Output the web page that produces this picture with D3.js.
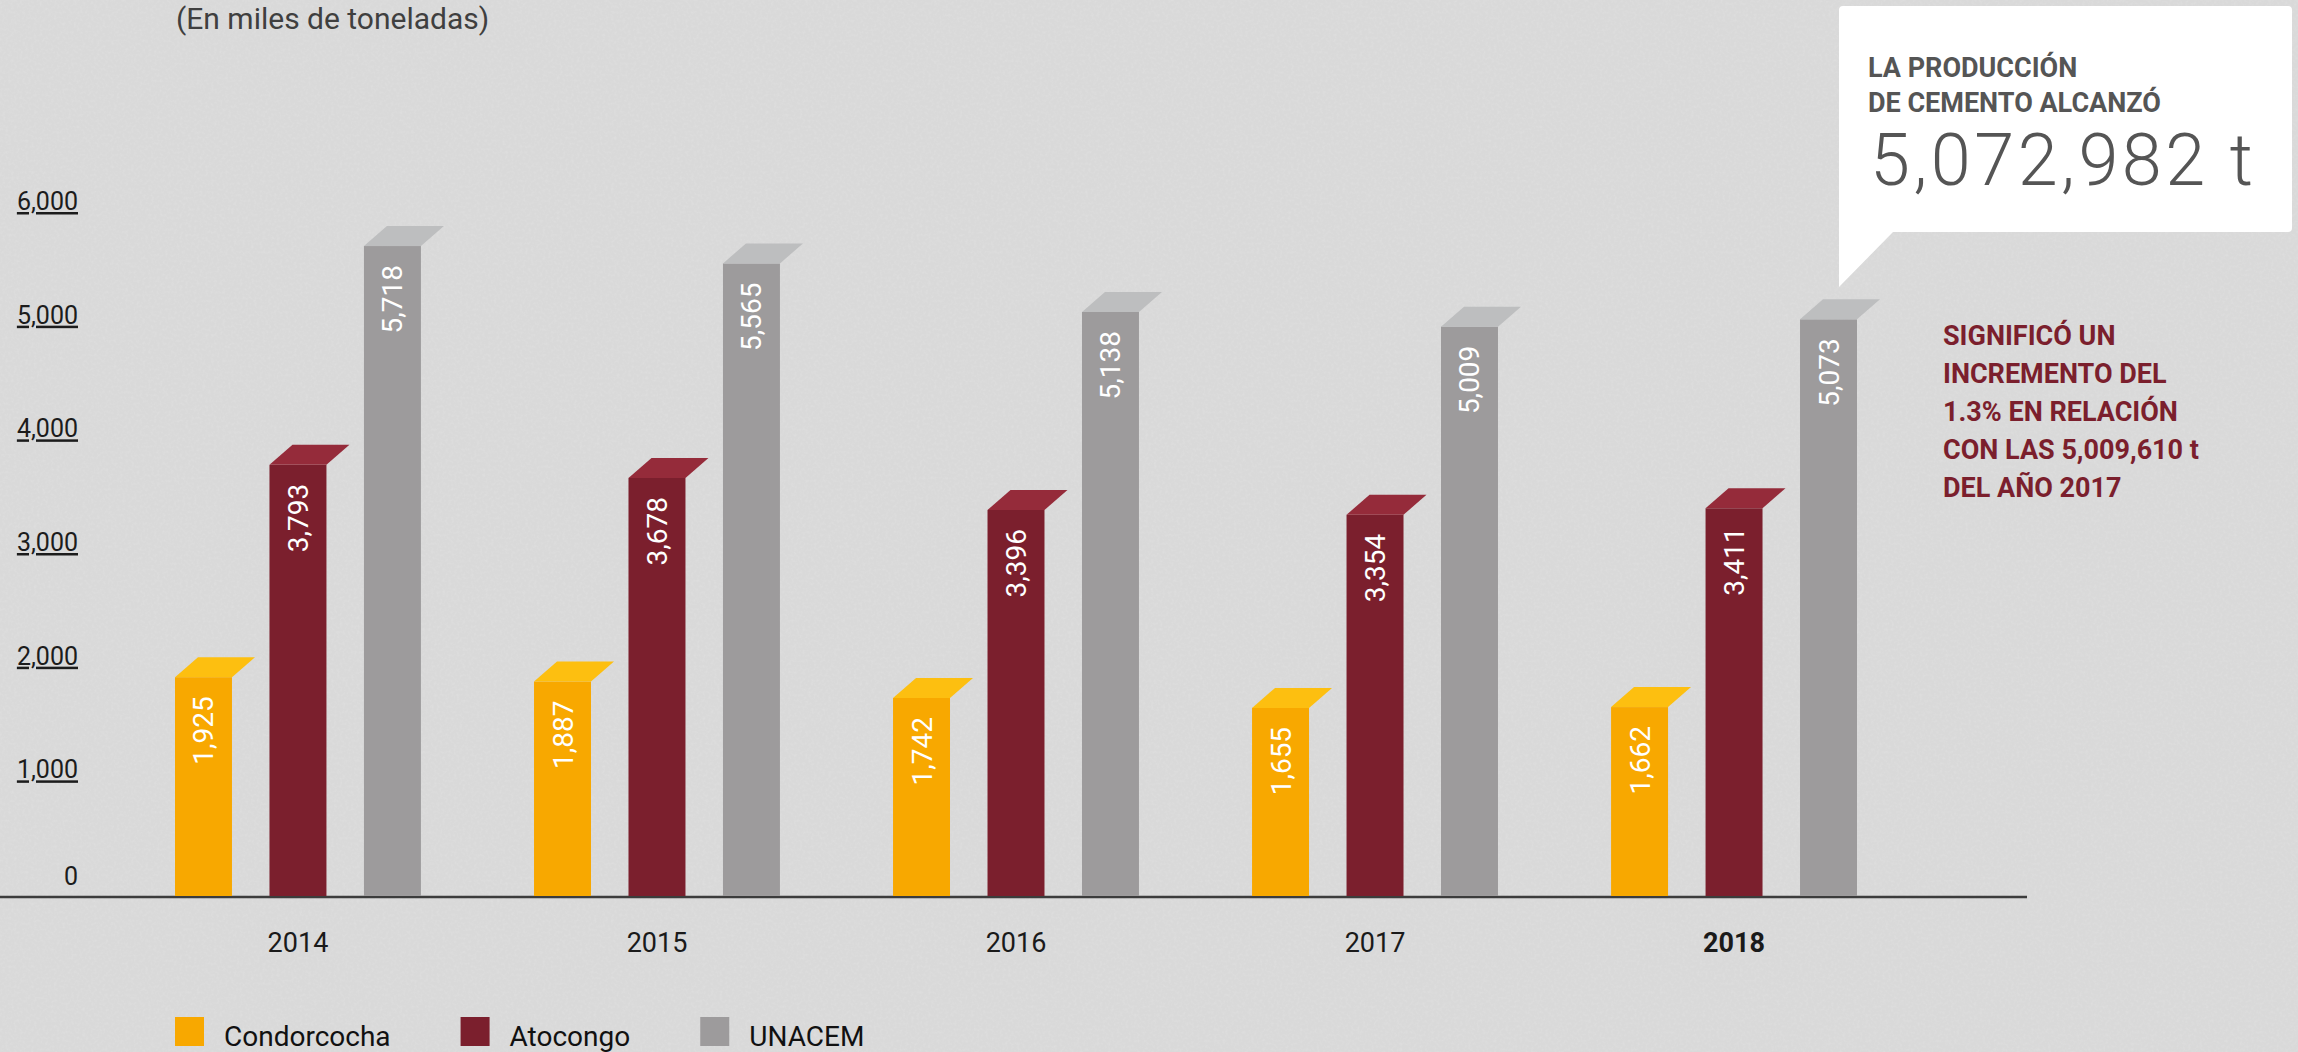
<!DOCTYPE html>
<html>
<head>
<meta charset="utf-8">
<script src="https://cdn.jsdelivr.net/npm/d3@7"></script>
<style>
  html, body { margin: 0; padding: 0; background: #dbdbdb; overflow: hidden; }
  svg { display: block; font-family: Roboto, "Noto Sans", sans-serif; }
</style>
</head>
<body>
<div id="chart"></div>
<script>
// data (miles de toneladas)
var years = ["2014", "2015", "2016", "2017", "2018"];
var series = ["Condorcocha", "Atocongo", "UNACEM"];
var condorcocha = [1925, 1887, 1742, 1655, 1662];
var atocongo = [3793, 3678, 3396, 3354, 3411];
var unacem = [5718, 5565, 5138, 5009, 5073];
var yTicks = [0, 1000, 2000, 3000, 4000, 5000, 6000];

var frontColor = {Condorcocha: "#f8a800", Atocongo: "#7b1f2d", UNACEM: "#9d9b9c"};
var topColor = {Condorcocha: "#fdbf10", Atocongo: "#952b3a", UNACEM: "#bdbebf"};

var W = 2298, H = 1052;

var svg = d3.select("#chart")
  .append("svg")
  .attr("width", W)
  .attr("height", H);

// paper-like background with a light grain
var defs = svg.append("defs");
var grain = defs.append("filter").attr("id", "grain")
  .attr("x", 0).attr("y", 0).attr("width", "100%").attr("height", "100%");
grain.append("feTurbulence")
  .attr("type", "fractalNoise")
  .attr("baseFrequency", 0.35)
  .attr("numOctaves", 2)
  .attr("seed", 3);
grain.append("feColorMatrix")
  .attr("type", "matrix")
  .attr("values", "0 0 0 0 1  0 0 0 0 1  0 0 0 0 1  0 0 0 0.45 -0.18");

svg.append("rect").attr("width", W).attr("height", H).attr("fill", "#d9d9d9");
svg.append("rect").attr("width", W).attr("height", H).attr("filter", "url(#grain)").attr("opacity", 0.5);

// scales
var y = d3.scaleLinear()
  .domain([0, 6000])
  .range([896, 214]);

var x0 = d3.scaleBand()
  .domain(years)
  .range([175, 1857])
  .paddingInner(0.315)
  .paddingOuter(0);

var x1 = d3.scaleBand()
  .domain(series)
  .range([0, x0.bandwidth()])
  .paddingInner(0.397)
  .paddingOuter(0);

var fmt = d3.format(",");

// subtitle
svg.append("text")
  .attr("x", 176)
  .attr("y", 29)
  .attr("fill", "#3f3f3f")
  .style("font-size", "30px")
  .text("(En miles de toneladas)");

// Y axis (underlined labels)
var yAxis = svg.append("g")
  .attr("transform", "translate(78,0)")
  .call(d3.axisLeft(y).tickValues(yTicks).tickSize(0).tickPadding(0).tickFormat(fmt));
yAxis.select(".domain").remove();
yAxis.selectAll("text")
  .attr("dy", function(d) { return d === 0 ? "-0.45em" : "-0.18em"; })
  .attr("fill", "#1c1c1c")
  .style("font-size", "25px")
  .style("font-family", "Roboto, sans-serif")
  .style("text-decoration", function(d) { return d === 0 ? "none" : "underline"; });

// baseline
svg.append("line")
  .attr("x1", 0).attr("x2", 2027)
  .attr("y1", 897).attr("y2", 897)
  .attr("stroke", "#3c3c3c")
  .attr("stroke-width", 2.5);

// X axis
var xAxis = svg.append("g")
  .attr("transform", "translate(0,897)")
  .call(d3.axisBottom(x0).tickSize(0).tickPadding(0));
xAxis.select(".domain").remove();
xAxis.selectAll("text")
  .attr("y", 55)
  .attr("dy", 0)
  .attr("fill", "#1a1a1a")
  .style("font-size", "27px")
  .style("font-family", "Roboto, sans-serif")
  .style("font-weight", function(d) { return d === "2018" ? "bold" : "normal"; });

// bars
var rows = years.map(function(yr, i) {
  return {year: yr, values: [
    {key: "Condorcocha", value: condorcocha[i]},
    {key: "Atocongo", value: atocongo[i]},
    {key: "UNACEM", value: unacem[i]}
  ]};
});

var dx = 23, dy = 20;

var groups = svg.selectAll("g.year")
  .data(rows)
  .enter()
  .append("g")
  .attr("class", "year")
  .attr("transform", function(d) { return "translate(" + x0(d.year) + ",0)"; });

var bars = groups.selectAll("g.bar")
  .data(function(d) { return d.values; })
  .enter()
  .append("g")
  .attr("class", "bar");

bars.append("rect")
  .attr("x", function(d) { return x1(d.key); })
  .attr("y", function(d) { return y(d.value); })
  .attr("width", x1.bandwidth())
  .attr("height", function(d) { return y(0) - y(d.value); })
  .attr("fill", function(d) { return frontColor[d.key]; });

bars.append("path")
  .attr("d", function(d) {
    var l = x1(d.key), r = l + x1.bandwidth(), t = y(d.value);
    return "M" + l + "," + t + "L" + r + "," + t + "L" + (r + dx) + "," + (t - dy) +
      "L" + (l + dx) + "," + (t - dy) + "Z";
  })
  .attr("fill", function(d) { return topColor[d.key]; });

bars.append("text")
  .attr("transform", function(d) {
    return "translate(" + (x1(d.key) + x1.bandwidth() / 2 + 10) + "," + (y(d.value) + 19) + ")rotate(-90)";
  })
  .attr("text-anchor", "end")
  .attr("fill", "#fff")
  .style("font-size", "28px")
  .text(function(d) { return fmt(d.value); });

// callout box
var box = svg.append("g");
box.append("path")
  .attr("d", "M1843,6 L2288,6 Q2292,6 2292,10 L2292,228 Q2292,232 2288,232 L1893,232 L1839,287 L1839,10 Q1839,6 1843,6 Z")
  .attr("fill", "#fff");
box.append("text")
  .attr("x", 1868).attr("y", 77)
  .attr("fill", "#555")
  .style("font-size", "27px").style("font-weight", "bold")
  .text("LA PRODUCCIÓN");
box.append("text")
  .attr("x", 1868).attr("y", 112)
  .attr("fill", "#555")
  .style("font-size", "27px").style("font-weight", "bold")
  .text("DE CEMENTO ALCANZÓ");
box.append("text")
  .attr("x", 1870).attr("y", 185)
  .attr("fill", "#555")
  .style("font-size", "72px").style("font-weight", "300")
  .style("letter-spacing", "3.5px")
  .text("5,072,982 t");

// red note
var note = ["SIGNIFICÓ UN", "INCREMENTO DEL", "1.3% EN RELACIÓN", "CON LAS 5,009,610 t", "DEL AÑO 2017"];
svg.append("g").selectAll("text")
  .data(note)
  .enter()
  .append("text")
  .attr("x", 1943)
  .attr("y", function(d, i) { return 345 + i * 38; })
  .attr("fill", "#7b1f2d")
  .style("font-size", "27px").style("font-weight", "bold")
  .text(function(d) { return d; });

// legend
var legend = svg.append("g");
var lx = 175;
series.forEach(function(s) {
  legend.append("rect")
    .attr("x", lx).attr("y", 1017)
    .attr("width", 29).attr("height", 29)
    .attr("fill", frontColor[s]);
  var t = legend.append("text")
    .attr("x", lx + 49).attr("y", 1046)
    .attr("fill", "#111")
    .style("font-size", "28px")
    .text(s);
  lx = lx + 49 + t.node().getComputedTextLength() + 70;
});
</script>
</body>
</html>
